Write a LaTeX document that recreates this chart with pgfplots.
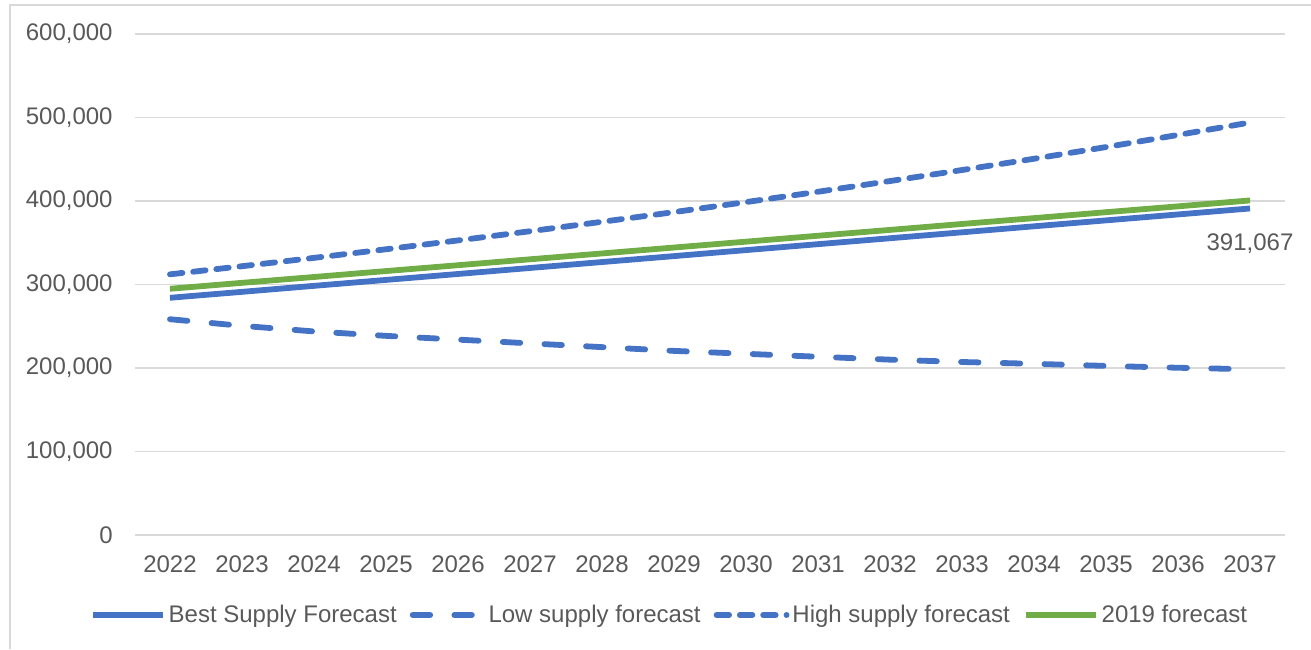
\documentclass[border=0pt]{standalone}
\usepackage{pgfplots}
\pgfplotsset{compat=1.18}
\usepackage{fontspec}
\setmainfont{Liberation Sans}
\definecolor{txtgray}{HTML}{595959}
\definecolor{gridgray}{HTML}{D9D9D9}
\definecolor{xlblue}{HTML}{4472C4}
\definecolor{xlgreen}{HTML}{70AD47}
\begin{document}
\begin{tikzpicture}
\begin{axis}[
  at={(0,0)}, anchor=south west,
  scale only axis,
  width=575pt, height=250.5pt,
  xmin=-0.486, xmax=15.486,
  ymin=0, ymax=600000,
  clip=false,
  xtick={0,...,15},
  xticklabels={2022,2023,2024,2025,2026,2027,2028,2029,2030,2031,2032,2033,2034,2035,2036,2037},
  ytick={0,100000,200000,300000,400000,500000,600000},
  scaled y ticks=false,
  /pgf/number format/fixed,
  /pgf/number format/1000 sep={,},
  /pgf/number format/assume math mode=true,
  tick label style={font=\fontsize{12}{14}\selectfont, text=txtgray, inner sep=0pt},
  yticklabel style={anchor=east, xshift=-11pt},
  xticklabel style={anchor=north, yshift=-10pt},
  major tick length=0pt,
  axis line style={draw=none},
  ymajorgrids,
  grid style={gridgray, line width=0.75pt},
  legend columns=4,
  legend style={draw=none, fill=none, at={(0.5,0)}, anchor=center,
    xshift=-20pt, yshift=-40pt,
    font=\fontsize{12}{14}\selectfont, text=txtgray,
    nodes={inner sep=1.5pt},
    /tikz/every even column/.append style={column sep=5pt}},
  legend image code/.code={\draw[#1] (0pt,0pt) -- (35pt,0pt);},
]
\addplot[xlblue, line width=2.9pt] coordinates {
(0,284100) (1,291200) (2,298400) (3,305500) (4,312600) (5,319800)
(6,326900) (7,334000) (8,341200) (9,348300) (10,355400) (11,362500)
(12,369700) (13,376800) (14,383900) (15,391067)};
\addlegendentry{Best Supply Forecast}
\addplot[xlblue, line width=2.9pt, line cap=round, dash pattern=on 8.75pt off 12.1pt] coordinates {
(0,258400) (1,250500) (2,243800) (3,238500) (4,234000) (5,229500)
(6,225000) (7,220500) (8,217000) (9,213500) (10,210000) (11,207200)
(12,205000) (13,202500) (14,200300) (15,198500)};
\addlegendentry{Low supply forecast}
\addplot[xlblue, line width=2.9pt, line cap=round, dash pattern=on 6.25pt off 5.4pt] coordinates {
(0,312200) (1,321900) (2,331900) (3,342200) (4,352800) (5,363800)
(6,375100) (7,386700) (8,398700) (9,411100) (10,423900) (11,437100)
(12,450600) (13,464600) (14,479100) (15,494000)};
\addlegendentry{High supply forecast}
\addplot[xlgreen, line width=2.9pt] coordinates {
(0,294900) (1,302000) (2,309000) (3,316100) (4,323100) (5,330200)
(6,337200) (7,344300) (8,351300) (9,358400) (10,365400) (11,372500)
(12,379500) (13,386600) (14,393600) (15,400700)};
\addlegendentry{2019 forecast}
\node[anchor=north, inner sep=0pt, yshift=-12.5pt, text=txtgray,
  font=\fontsize{12}{14}\selectfont] at (axis cs:15,391067) {391,067};
\end{axis}
\draw[gridgray, line width=0.75pt] (-62.5pt,-57pt) -- (-62.5pt,265pt) -- (588pt,265pt);
\pgfresetboundingbox
\useasboundingbox (-67.5pt,-57pt) rectangle (588pt,267.5pt);
\end{tikzpicture}
\end{document}
